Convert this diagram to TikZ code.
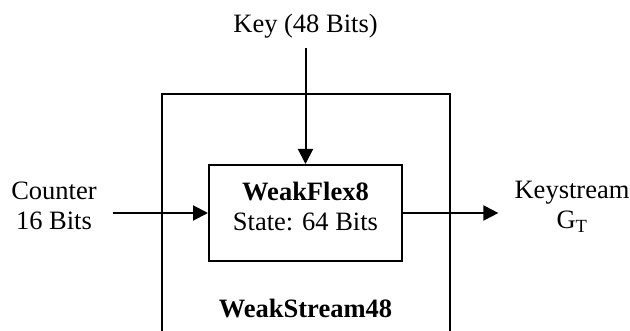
\documentclass[tikz,border=0pt]{standalone}
\usepackage{fontspec}
\setmainfont{Liberation Serif}
\usetikzlibrary{positioning, arrows.meta, calc}

\begin{document}
\begin{tikzpicture}[x=1pt, y=-1pt,
        every node/.style={font=\fontsize{26.5}{30}\selectfont, inner sep=2pt, align=center},
        block/.style={draw, line width=2pt},
        arr/.style={line width=2pt, -{Triangle[length=15pt, width=15pt]}}]

            % frame of the picture
            \useasboundingbox (0,0) rectangle (630,331);
            \clip (0,0) rectangle (630,331);

            % outer box, open at the bottom
            \node[block, minimum width=288pt, minimum height=280pt, anchor=north] (stream) at (306,93) {};
            \node (streamlabel) at (305.5,309) {\bfseries WeakStream48};

            % inner box
            \node[block, minimum width=193pt, minimum height=96pt, text depth=14pt] (flex) at (305.5,213)
                {{\bfseries WeakFlex8}\\State: 64 Bits};

            % inputs and output
            \node (key) at (305.5,26) {Key (48 Bits)};
            \node (counter) at (54,206) {Counter\\16 Bits};
            \node (keystream) at (572,207) {Keystream\\G\textsubscript{T}};

            \draw[arr]
                ([yshift=-8pt]key.south) -- (flex.north);
            \draw[arr]
                ([xshift=14pt]counter.east |- flex.west) -- (flex.west);
            \draw[arr]
                (flex.east) -- ([xshift=-14pt]keystream.west |- flex.east);
        \end{tikzpicture}
\end{document}
